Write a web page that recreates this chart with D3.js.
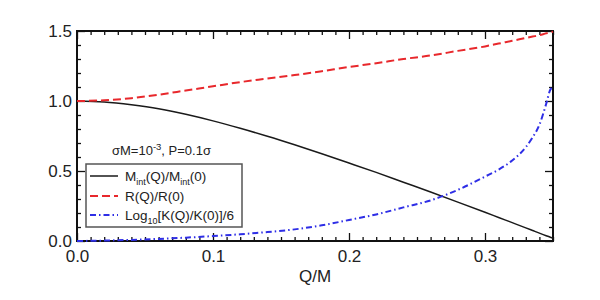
<!DOCTYPE html>
<html>
<head>
<meta charset="utf-8">
<script src="https://cdn.jsdelivr.net/npm/d3@7"></script>
<style>
  body { margin: 0; background: #fff; }
  svg text { font-family: "Liberation Sans", Arial, sans-serif; fill: #222; }
  .axis path { stroke: none; }
  .axis line { stroke: #111; stroke-width: 1.3; }
</style>
</head>
<body>
<script>
// Q/M grid and the three curves
var qValues = [0, 0.02, 0.04, 0.06, 0.08, 0.10, 0.12, 0.14, 0.16, 0.18, 0.20, 0.22, 0.24,
               0.26, 0.28, 0.30, 0.31, 0.32, 0.33, 0.335, 0.34, 0.345, 0.348, 0.35];
var mRatio = [1.0, 0.993, 0.973, 0.945, 0.905, 0.858, 0.805, 0.748, 0.687, 0.623, 0.557, 0.49, 0.42,
              0.35, 0.278, 0.205, 0.168, 0.131, 0.094, 0.075, 0.056, 0.038, 0.027, 0.02];
var rRatio = [1.0, 1.005, 1.02, 1.045, 1.075, 1.105, 1.135, 1.16, 1.185, 1.213, 1.243, 1.27, 1.30,
              1.325, 1.358, 1.39, 1.41, 1.43, 1.45, 1.46, 1.47, 1.483, 1.49, 1.495];
var kLog = [0, 0.003, 0.008, 0.015, 0.024, 0.035, 0.048, 0.064, 0.083, 0.112, 0.15, 0.19, 0.24,
            0.29, 0.365, 0.46, 0.51, 0.575, 0.67, 0.74, 0.83, 0.98, 1.08, 1.1];

var xMajor = [0, 0.1, 0.2, 0.3];
var yMajor = [0, 0.5, 1.0, 1.5];

var width = 600, height = 300;

var svg = d3.select("body").append("svg")
    .attr("width", width)
    .attr("height", height);

var x = d3.scaleLinear().domain([0, 0.35]).range([77, 553]);
var y = d3.scaleLinear().domain([0, 1.5]).range([241, 31]);

var xMinor = d3.range(0, 0.3501, 0.01).filter(function(v){ return Math.abs(v*10 - Math.round(v*10)) > 1e-6; });
var yMinor = d3.range(0, 1.501, 0.1).filter(function(v){ return Math.abs(v*2 - Math.round(v*2)) > 1e-6; });

//minor ticks on all four sides (inward)
function minorAxes(){
    svg.append("g").attr("class", "axis").attr("transform", "translate(0," + y(0) + ")")
        .call(d3.axisBottom(x).tickValues(xMinor).tickSize(-4).tickFormat(""));
    svg.append("g").attr("class", "axis").attr("transform", "translate(0," + y(1.5) + ")")
        .call(d3.axisTop(x).tickValues(xMinor).tickSize(-4).tickFormat(""));
    svg.append("g").attr("class", "axis").attr("transform", "translate(" + x(0) + ",0)")
        .call(d3.axisLeft(y).tickValues(yMinor).tickSize(-4).tickFormat(""));
    svg.append("g").attr("class", "axis").attr("transform", "translate(" + x(0.35) + ",0)")
        .call(d3.axisRight(y).tickValues(yMinor).tickSize(-4).tickFormat(""));
}
minorAxes();

//major ticks with labels
svg.append("g").attr("class", "axis").attr("transform", "translate(0," + y(0) + ")")
    .call(d3.axisBottom(x).tickValues(xMajor).tickSizeInner(-8).tickSizeOuter(0).tickPadding(9).tickFormat(d3.format(".1f")))
    .selectAll("text").style("font-size", "17px").attr("fill", "#222");
svg.append("g").attr("class", "axis").attr("transform", "translate(0," + y(1.5) + ")")
    .call(d3.axisTop(x).tickValues(xMajor).tickSizeInner(-8).tickSizeOuter(0).tickFormat(""));
svg.append("g").attr("class", "axis").attr("transform", "translate(" + x(0) + ",0)")
    .call(d3.axisLeft(y).tickValues(yMajor).tickSizeInner(-8).tickSizeOuter(0).tickPadding(5).tickFormat(d3.format(".1f")))
    .selectAll("text").style("font-size", "17px").attr("fill", "#222");
svg.append("g").attr("class", "axis").attr("transform", "translate(" + x(0.35) + ",0)")
    .call(d3.axisRight(y).tickValues(yMajor).tickSizeInner(-8).tickSizeOuter(0).tickFormat(""));

//frame
svg.append("rect")
    .attr("x", x(0)).attr("y", y(1.5))
    .attr("width", x(0.35) - x(0)).attr("height", y(0) - y(1.5))
    .attr("fill", "none").attr("stroke", "#111").attr("stroke-width", 2);

//curves
var series = [
    {name: "m", values: mRatio, color: "#1a1a1a", dash: null, w: 1.5},
    {name: "r", values: rRatio, color: "#e8282c", dash: "8,4", w: 2},
    {name: "k", values: kLog, color: "#2e2ee6", dash: "6,3,1.5,3", w: 2}
];

var line = d3.line()
    .x(function(d){ return x(d[0]); })
    .y(function(d){ return y(d[1]); })
    .curve(d3.curveMonotoneX);

series.forEach(function(s){
    svg.append("path")
        .datum(qValues.map(function(q, i){ return [q, s.values[i]]; }))
        .attr("class", "curve " + s.name)
        .attr("fill", "none")
        .attr("stroke", s.color)
        .attr("stroke-width", s.w)
        .attr("stroke-dasharray", s.dash)
        .attr("d", line);
});

//x axis title
svg.append("text")
    .attr("x", 315).attr("y", 282)
    .attr("text-anchor", "middle")
    .style("font-size", "17px")
    .text("Q/M");

//parameter note
var note = svg.append("text")
    .attr("x", 112).attr("y", 155)
    .style("font-size", "13px");
note.append("tspan").text("σM=10");
note.append("tspan").attr("dy", -5).style("font-size", "9.5px").text("-3");
note.append("tspan").attr("dy", 5).text(", P=0.1σ");

//legend
var legend = svg.append("g");
legend.append("rect")
    .attr("x", 86).attr("y", 164).attr("width", 156).attr("height", 63)
    .attr("fill", "#fff").attr("stroke", "#555").attr("stroke-width", 1.5);

var rowsY = [176, 196, 215];
series.forEach(function(s, i){
    legend.append("line")
        .attr("x1", 90).attr("x2", 118)
        .attr("y1", rowsY[i]).attr("y2", rowsY[i])
        .attr("stroke", s.color).attr("stroke-width", s.w)
        .attr("stroke-dasharray", s.dash);
});

var t1 = legend.append("text").attr("x", 125).attr("y", rowsY[0] + 5).style("font-size", "13.5px");
t1.append("tspan").text("M");
t1.append("tspan").attr("dy", 4).style("font-size", "9px").text("int");
t1.append("tspan").attr("dy", -4).text("(Q)/M");
t1.append("tspan").attr("dy", 4).style("font-size", "9px").text("int");
t1.append("tspan").attr("dy", -4).text("(0)");

legend.append("text").attr("x", 125).attr("y", rowsY[1] + 5).style("font-size", "13.5px")
    .text("R(Q)/R(0)");

var t3 = legend.append("text").attr("x", 125).attr("y", rowsY[2] + 5).style("font-size", "13.5px");
t3.append("tspan").text("Log");
t3.append("tspan").attr("dy", 4).style("font-size", "9px").text("10");
t3.append("tspan").attr("dy", -4).text("[K(Q)/K(0)]/6");
</script>
</body>
</html>
